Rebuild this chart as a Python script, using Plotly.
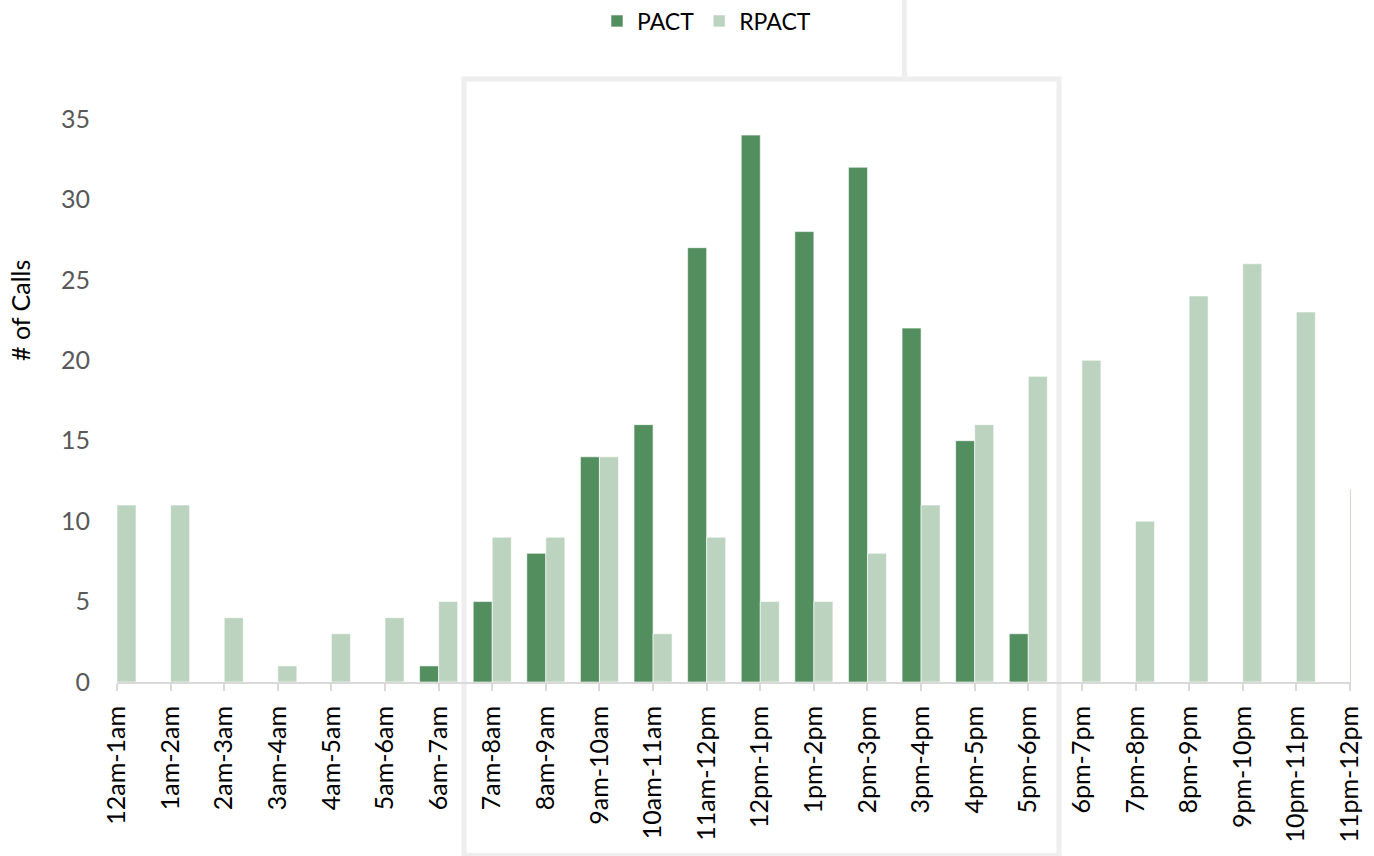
import plotly.graph_objects as go

# Hourly call volumes by program
hours = [
    "12am-1am", "1am-2am", "2am-3am", "3am-4am", "4am-5am", "5am-6am",
    "6am-7am", "7am-8am", "8am-9am", "9am-10am", "10am-11am", "11am-12pm",
    "12pm-1pm", "1pm-2pm", "2pm-3pm", "3pm-4pm", "4pm-5pm", "5pm-6pm",
    "6pm-7pm", "7pm-8pm", "8pm-9pm", "9pm-10pm", "10pm-11pm", "11pm-12pm",
]
pact_calls = [0, 0, 0, 0, 0, 0, 1, 5, 8, 14, 16, 27, 34, 28, 32, 22, 15, 3,
              0, 0, 0, 0, 0, 0]
rpact_calls = [11, 11, 4, 1, 3, 4, 5, 9, 9, 14, 3, 9, 5, 5, 8, 11, 16, 19,
               20, 10, 24, 26, 23, 12]
y_ticks = [0, 5, 10, 15, 20, 25, 30, 35]

PACT_COLOR = "#538e5f"
RPACT_COLOR = "#bcd3bf"
FRAME_COLOR = "#eeeeee"
FONT = "Lato"

W, H = 1374, 856
L, R, T, B = 117, 23, 119, 174          # plot-area margins in px
PW, PH = W - L - R, H - T - B


def px_x(px):
    return (px - L) / PW


def px_y(py):
    return (H - B - py) / PH


fig = go.Figure()
fig.add_trace(go.Bar(
    name="PACT", x=hours, y=pact_calls,
    marker=dict(color=PACT_COLOR, line=dict(color="rgba(255,255,255,0.6)", width=1)),
))
fig.add_trace(go.Bar(
    name="RPACT", x=hours, y=rpact_calls,
    marker=dict(color=RPACT_COLOR, line=dict(color="rgba(255,255,255,0.6)", width=1)),
))

# highlighted daytime window and connector line
fig.add_shape(type="rect", xref="paper", yref="paper",
              x0=px_x(464), x1=px_x(1059), y0=px_y(855.5), y1=px_y(79),
              line=dict(color=FRAME_COLOR, width=5), layer="below")
fig.add_shape(type="line", xref="paper", yref="paper",
              x0=px_x(904.5), x1=px_x(904.5), y0=px_y(79), y1=px_y(-5),
              line=dict(color=FRAME_COLOR, width=5), layer="below")

# y-axis title
fig.add_annotation(text="# of Calls", xref="paper", yref="paper",
                   x=px_x(20), y=px_y(311), xanchor="center", yanchor="middle",
                   textangle=-90, showarrow=False,
                   font=dict(family=FONT, size=25, color="#000000"))

fig.update_layout(
    width=W, height=H,
    margin=dict(l=L, r=R, t=T, b=B, autoexpand=False),
    paper_bgcolor="white", plot_bgcolor="white",
    barmode="group", bargap=0.29, bargroupgap=0,
    font=dict(family=FONT, color="#000000"),
    showlegend=True,
    legend=dict(
        orientation="h", x=px_x(597), xanchor="left",
        y=px_y(21), yanchor="middle",
        font=dict(size=23, color="#000000"),
        bgcolor="rgba(0,0,0,0)", traceorder="normal",
    ),
    xaxis=dict(
        type="category", range=[0, 23.02], fixedrange=True,
        showgrid=False, zeroline=False,
        showline=True, linecolor="#d9d9d9", linewidth=2,
        ticks="outside", ticklen=7, tickwidth=1.5, tickcolor="#d9d9d9",
        tickangle=-90, ticklabelstandoff=5,
        tickfont=dict(family=FONT, size=25, color="#000000"),
    ),
    yaxis=dict(
        range=[0, 35], tickvals=y_ticks, showgrid=False, zeroline=False,
        showline=False, ticks="", ticklabelstandoff=26,
        tickfont=dict(family=FONT, size=25, color="#595959"),
    ),
)

fig.write_html("out.html")
